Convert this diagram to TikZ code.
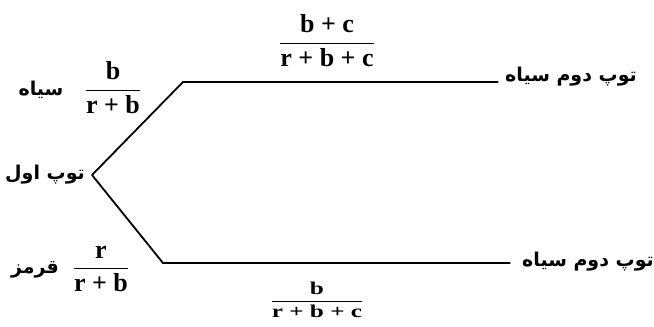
\documentclass[tikz,border=0pt]{standalone}
\usepackage{amsmath}
\usepackage{graphicx}
\usepackage{fontspec}
\setmainfont{Liberation Serif}
\newfontfamily\fa[Script=Arabic]{DejaVu Sans}
\TeXXeTstate=1
\usetikzlibrary{positioning}

\newcommand{\bfrac}[2]{$\dfrac{\text{\bfseries #1}}{\text{\bfseries #2}}$}
\newcommand{\fatext}[1]{\beginR #1\endR}

\begin{document}
\begin{tikzpicture}[x=1pt,y=-1pt,
    line width=1.8pt,
    label fa/.style={font=\fa\bfseries\fontsize{19}{22}\selectfont, inner sep=1pt},
    prob/.style={font=\fontsize{26}{30}\selectfont, inner sep=0pt},
    small prob/.style={font=\fontsize{18}{21}\selectfont, inner sep=0pt}]
    \useasboundingbox (0,0) rectangle (654,327);

    % Tree corners
    \coordinate (root) at (92,175);
    \coordinate (upbend) at (183,82);
    \coordinate (lobend) at (163,263);

    % First ball
    \node[label fa] (first) at (45,175) {\fatext{توپ اول}};

    % Second ball labels
    \node[label fa] (upsecond) at (571,77) {\fatext{توپ دوم سیاه}};
    \node[label fa] (losecond) at (588,262) {\fatext{توپ دوم سیاه}};

    % Branches
    \draw (root) -- (upbend) -- ([xshift=-5pt]upsecond.west |- upbend);
    \draw (root) -- (lobend) -- ([xshift=-10pt]losecond.west |- lobend);

    % Colour of first ball
    \node[label fa] (black) at (41,90) {\fatext{سیاه}};
    \node[label fa] (red) at (35,270) {\fatext{قرمز}};

    % Probabilities
    \node[prob] (pblack) at (113,88) {\bfrac{b}{r + b}};
    \node[prob] (pred) at (101,269) {\bfrac{r}{r + b}};
    \node[prob] (pupper) at (327,41) {\bfrac{b + c}{r + b + c}};
    \node[small prob] (plower) at (317,300) {\scalebox{1.4}[1]{\bfrac{b}{r + b + c}}};
\end{tikzpicture}
\end{document}
